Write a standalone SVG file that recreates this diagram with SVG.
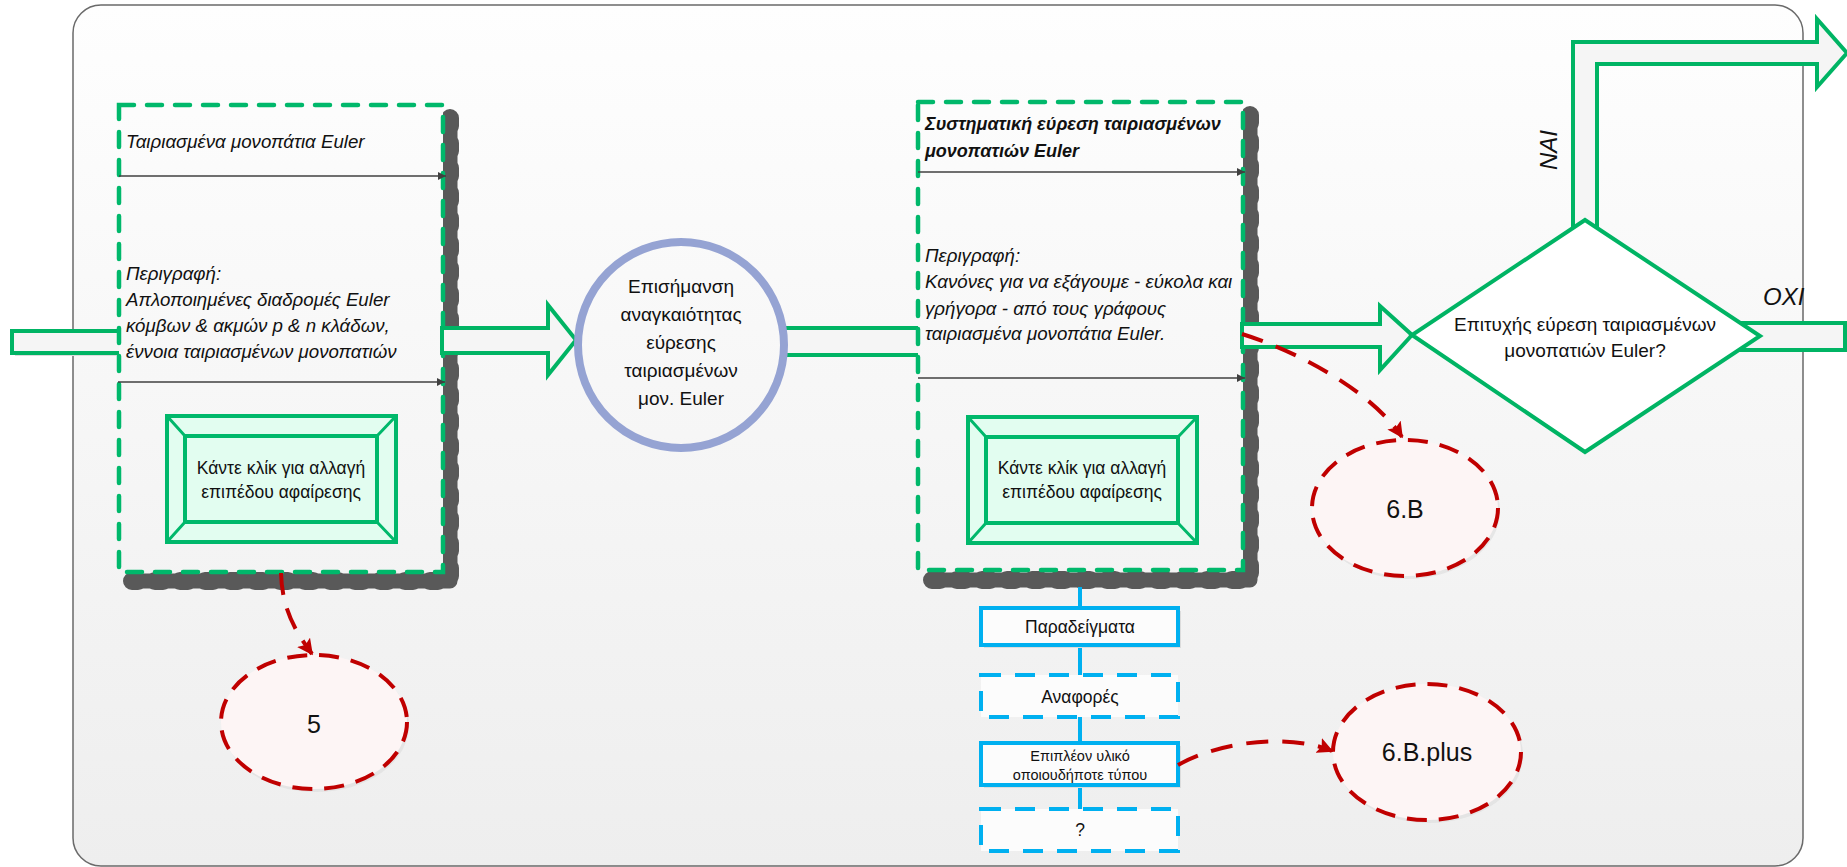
<svg xmlns="http://www.w3.org/2000/svg" width="1847" height="867" viewBox="0 0 1847 867">
  <style>
    .t { font-family: "Liberation Sans", Arial, sans-serif; fill: #111; }
    .it { font-style: italic; font-size: 18.7px; }
    .bi { font-style: italic; font-weight: bold; font-size: 18px; }
    .btn-t { font-size: 17.5px; text-anchor: middle; }
    .mid { text-anchor: middle; }
    .card { fill: url(#bg); stroke: #00b86b; stroke-width: 4.5; stroke-dasharray: 15 13; stroke-linecap: round; }
    .shade { fill: none; stroke: #595959; stroke-width: 15; stroke-linejoin: round; stroke-linecap: round; }
    .shade-b { fill: none; stroke: #595959; stroke-width: 18; stroke-dasharray: 8 17; stroke-linecap: round; }
    .flow { stroke: #404040; stroke-width: 1.6; marker-end: url(#dark); }
    .block { fill: #f5f5f5; stroke: #00b464; stroke-width: 4; stroke-linejoin: miter; }
    .ref { fill: #fdf5f5; stroke: #c00000; stroke-width: 4; stroke-dasharray: 20 12; }
    .ref-link { fill: none; stroke: #c00000; stroke-width: 4; stroke-dasharray: 22 14; marker-end: url(#red); }
    .blue { fill: #fcfcfc; stroke: #00b0f0; stroke-width: 4; }
    .blue-d { fill: #fcfcfc; stroke: #00b0f0; stroke-width: 4; stroke-dasharray: 20 14; }
    .stem { stroke: #00b0f0; stroke-width: 4; }
    .soft { fill: #dcdcdc; }
    .res { font-size: 17.5px; }
  </style>
  <defs>
    <linearGradient id="bg" gradientUnits="userSpaceOnUse" x1="0" y1="5" x2="0" y2="866">
      <stop offset="0" stop-color="#fefefe"/>
      <stop offset="1" stop-color="#eeeeee"/>
    </linearGradient>
    <marker id="dark" viewBox="0 0 10 10" refX="10" refY="5" markerWidth="8" markerHeight="8" markerUnits="userSpaceOnUse" orient="auto">
      <path d="M0,0 L10,5 L0,10 Z" fill="#404040"/>
    </marker>
    <marker id="red" viewBox="0 0 10 10" refX="9" refY="5" markerWidth="16" markerHeight="16" markerUnits="userSpaceOnUse" orient="auto">
      <path d="M0,0 L10,5 L0,10 L2,5 Z" fill="#c00000"/>
    </marker>
    <!-- bevelled "change abstraction level" button, 229 x 126 -->
    <g id="btn">
      <rect x="0" y="0" width="229" height="126" fill="#e2fdf0" stroke="#00b86b" stroke-width="4"/>
      <rect x="18" y="20" width="192" height="86" fill="#e2fdf0" stroke="#00b86b" stroke-width="4"/>
      <path d="M0,0 L18,20 M229,0 L210,20 M0,126 L18,106 M229,126 L210,106" stroke="#00b86b" stroke-width="3"/>
    </g>
  </defs>

  <!-- outer frame -->
  <rect x="73" y="5" width="1730" height="861" rx="28" fill="url(#bg)" stroke="#6a6a6a" stroke-width="1.5"/>

  <!-- block arrows and links -->
  <g id="connectors">
    <!-- incoming arrow (tail hidden under the first card) -->
    <rect x="15" y="334" width="110" height="22" class="soft"/>
    <rect x="12" y="331" width="113" height="22" class="block"/>
    <!-- circle -> second card -->
    <rect x="770" y="328" width="160" height="27" class="block"/>
    <!-- decision: yes (up and right) -->
    <path d="M1573,250 L1573,42 L1817,42 L1817,19 L1847,53 L1817,87 L1817,64 L1597,64 L1597,250 Z" class="block"/>
    <!-- decision: no (right) -->
    <rect x="1700" y="323" width="145" height="27" class="block"/>
  </g>

  <!-- card 1 -->
  <g id="node-euler-paths">
    <path d="M450,118 L450,581 L132,581" class="shade"/>
    <path d="M450,118 L450,581 L132,581" class="shade-b"/>
    <rect x="119" y="105" width="324" height="467" class="card"/>
    <text class="t it" x="126" y="148">Ταιριασμένα μονοπάτια Euler</text>
    <line x1="119" y1="176" x2="446" y2="176" class="flow"/>
    <text class="t it" x="126" y="280">Περιγραφή:</text>
    <text class="t it" x="126" y="306">Απλοποιημένες διαδρομές Euler</text>
    <text class="t it" x="126" y="332">κόμβων &amp; ακμών p &amp; n κλάδων,</text>
    <text class="t it" x="126" y="358">έννοια ταιριασμένων μονοπατιών</text>
    <line x1="118" y1="382" x2="445" y2="382" class="flow"/>
    <use href="#btn" x="167" y="416"/>
    <text class="t btn-t" x="281" y="474">Κάντε κλίκ για αλλαγή</text>
    <text class="t btn-t" x="281" y="498">επιπέδου αφαίρεσης</text>
  </g>

  <!-- card 1 -> circle -->
  <g id="arrow-card1-circle">
    <path d="M442,328 L548,328 L548,305 L576,340 L548,375 L548,353 L442,353 Z" class="block"/>
  </g>

  <!-- card 2 -->
  <g id="node-systematic">
    <path d="M1250,115 L1250,580 L932,580" class="shade"/>
    <path d="M1250,115 L1250,580 L932,580" class="shade-b"/>
    <rect x="918" y="102" width="325" height="468" class="card"/>
    <text class="t bi" x="925" y="130">Συστηματική εύρεση ταιριασμένων</text>
    <text class="t bi" x="925" y="157">μονοπατιών Euler</text>
    <line x1="918" y1="172" x2="1245" y2="172" class="flow"/>
    <text class="t it" x="925" y="262">Περιγραφή:</text>
    <text class="t it" x="925" y="288">Κανόνες για να εξάγουμε - εύκολα και</text>
    <text class="t it" x="925" y="315">γρήγορα - από τους γράφους</text>
    <text class="t it" x="925" y="340">ταιριασμένα μονοπάτια Euler.</text>
    <line x1="918" y1="378" x2="1245" y2="378" class="flow"/>
    <use href="#btn" x="968" y="417"/>
    <text class="t btn-t" x="1082" y="474">Κάντε κλίκ για αλλαγή</text>
    <text class="t btn-t" x="1082" y="498">επιπέδου αφαίρεσης</text>
  </g>

  <!-- circle -->
  <g id="node-need">
    <circle cx="681" cy="345" r="103" fill="url(#bg)" stroke="#95a3d3" stroke-width="8"/>
    <text class="t mid" font-size="19" x="681" y="293">Επισήμανση</text>
    <text class="t mid" font-size="19" x="681" y="321">αναγκαιότητας</text>
    <text class="t mid" font-size="19" x="681" y="349">εύρεσης</text>
    <text class="t mid" font-size="19" x="681" y="377">ταιριασμένων</text>
    <text class="t mid" font-size="19" x="681" y="405">μον. Euler</text>
  </g>

  <!-- card 2 -> decision -->
  <g id="arrow-card2-decision">
    <path d="M1242,324 L1380,324 L1380,306 L1412,335 L1380,370 L1380,347 L1242,347 Z" class="block"/>
  </g>

  <!-- decision -->
  <g id="node-decision">
    <polygon points="1585,220 1760,336 1585,452 1412,335" fill="#ffffff" stroke="#00b464" stroke-width="4"/>
    <text class="t mid" font-size="19" x="1585" y="331">Επιτυχής εύρεση ταιριασμένων</text>
    <text class="t mid" font-size="19" x="1585" y="357">μονοπατιών Euler?</text>
    <text class="t" font-size="24" font-style="italic" transform="translate(1557,150) rotate(-90)" text-anchor="middle">ΝΑΙ</text>
    <text class="t" font-size="24" font-style="italic" x="1763" y="305">ΟΧΙ</text>
  </g>

  <!-- resource stack under card 2 -->
  <g id="resources">
    <line x1="1080" y1="587" x2="1080" y2="809" class="stem"/>
    <rect x="984" y="611" width="197" height="37" class="soft"/>
    <rect x="981" y="608" width="197" height="37" class="blue"/>
    <text class="t mid res" x="1080" y="633">Παραδείγματα</text>
    <rect x="981" y="675" width="197" height="42" class="blue-d"/>
    <text class="t mid res" x="1080" y="703">Αναφορές</text>
    <rect x="984" y="746" width="197" height="42" class="soft"/>
    <rect x="981" y="743" width="197" height="42" class="blue"/>
    <text class="t mid" font-size="14.5" x="1080" y="761">Επιπλέον υλικό</text>
    <text class="t mid" font-size="14.5" x="1080" y="780">οποιουδήποτε τύπου</text>
    <rect x="981" y="809" width="197" height="42" class="blue-d"/>
    <text class="t mid res" x="1080" y="836">?</text>
  </g>

  <!-- reference bubbles -->
  <g id="ref-5">
    <ellipse cx="316" cy="725" rx="93" ry="67" class="soft" opacity="0.6"/>
    <ellipse cx="314" cy="722" rx="93" ry="67" class="ref"/>
    <text class="t mid" font-size="25" x="314" y="733">5</text>
  </g>
  <g id="ref-6B">
    <ellipse cx="1407" cy="511" rx="93" ry="68" class="soft" opacity="0.6"/>
    <ellipse cx="1405" cy="508" rx="93" ry="68" class="ref"/>
    <text class="t mid" font-size="25" x="1405" y="518">6.B</text>
  </g>
  <g id="ref-6Bplus">
    <ellipse cx="1429" cy="755" rx="94" ry="68" class="soft" opacity="0.6"/>
    <ellipse cx="1427" cy="752" rx="94" ry="68" class="ref"/>
    <text class="t mid" font-size="25" x="1427" y="761">6.B.plus</text>
  </g>

  <!-- dashed reference links -->
  <g id="ref-links">
    <path d="M281,573 C282,610 296,632 312,654" class="ref-link"/>
    <path d="M1242,334 C1300,352 1372,392 1402,437" class="ref-link"/>
    <path d="M1178,765 C1222,740 1292,734 1332,751" class="ref-link"/>
  </g>
</svg>
